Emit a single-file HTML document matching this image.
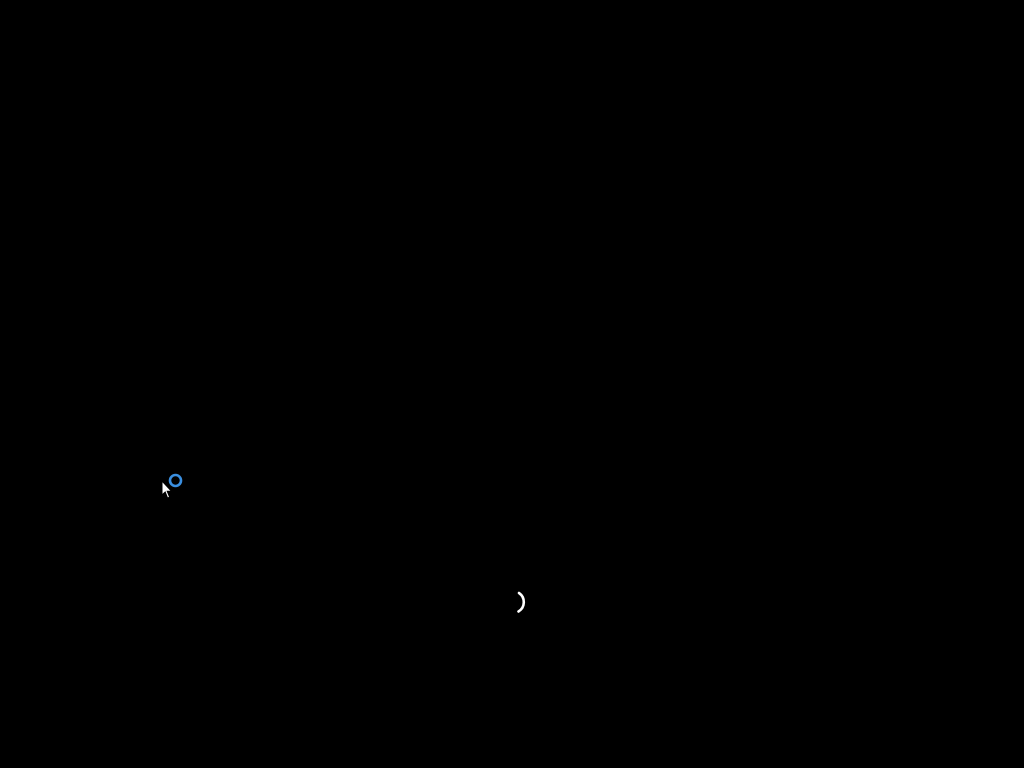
<!DOCTYPE html>
<html><head><meta charset="utf-8"><style>
html,body{margin:0;padding:0;background:#000;width:1024px;height:768px;overflow:hidden}
</style></head><body>
<svg width="1024" height="768" viewBox="0 0 1024 768" style="position:absolute;left:0;top:0">
<rect width="1024" height="768" fill="#000"/>
<circle cx="175.5" cy="480.5" r="5.5" fill="none" stroke="#3a8fe0" stroke-width="2.6"/>
<path d="M162 481 L162 495 L165.2 492 L167.6 498 L169.6 497.2 L167.2 491.3 L171.5 491.3 Z" fill="#fff" stroke="#000" stroke-width="1"/>
<path d="M519 593 A11 11 0 0 1 518.5 611.5" fill="none" stroke="#fff" stroke-width="2.6" stroke-linecap="round"/>
</svg>
</body></html>
